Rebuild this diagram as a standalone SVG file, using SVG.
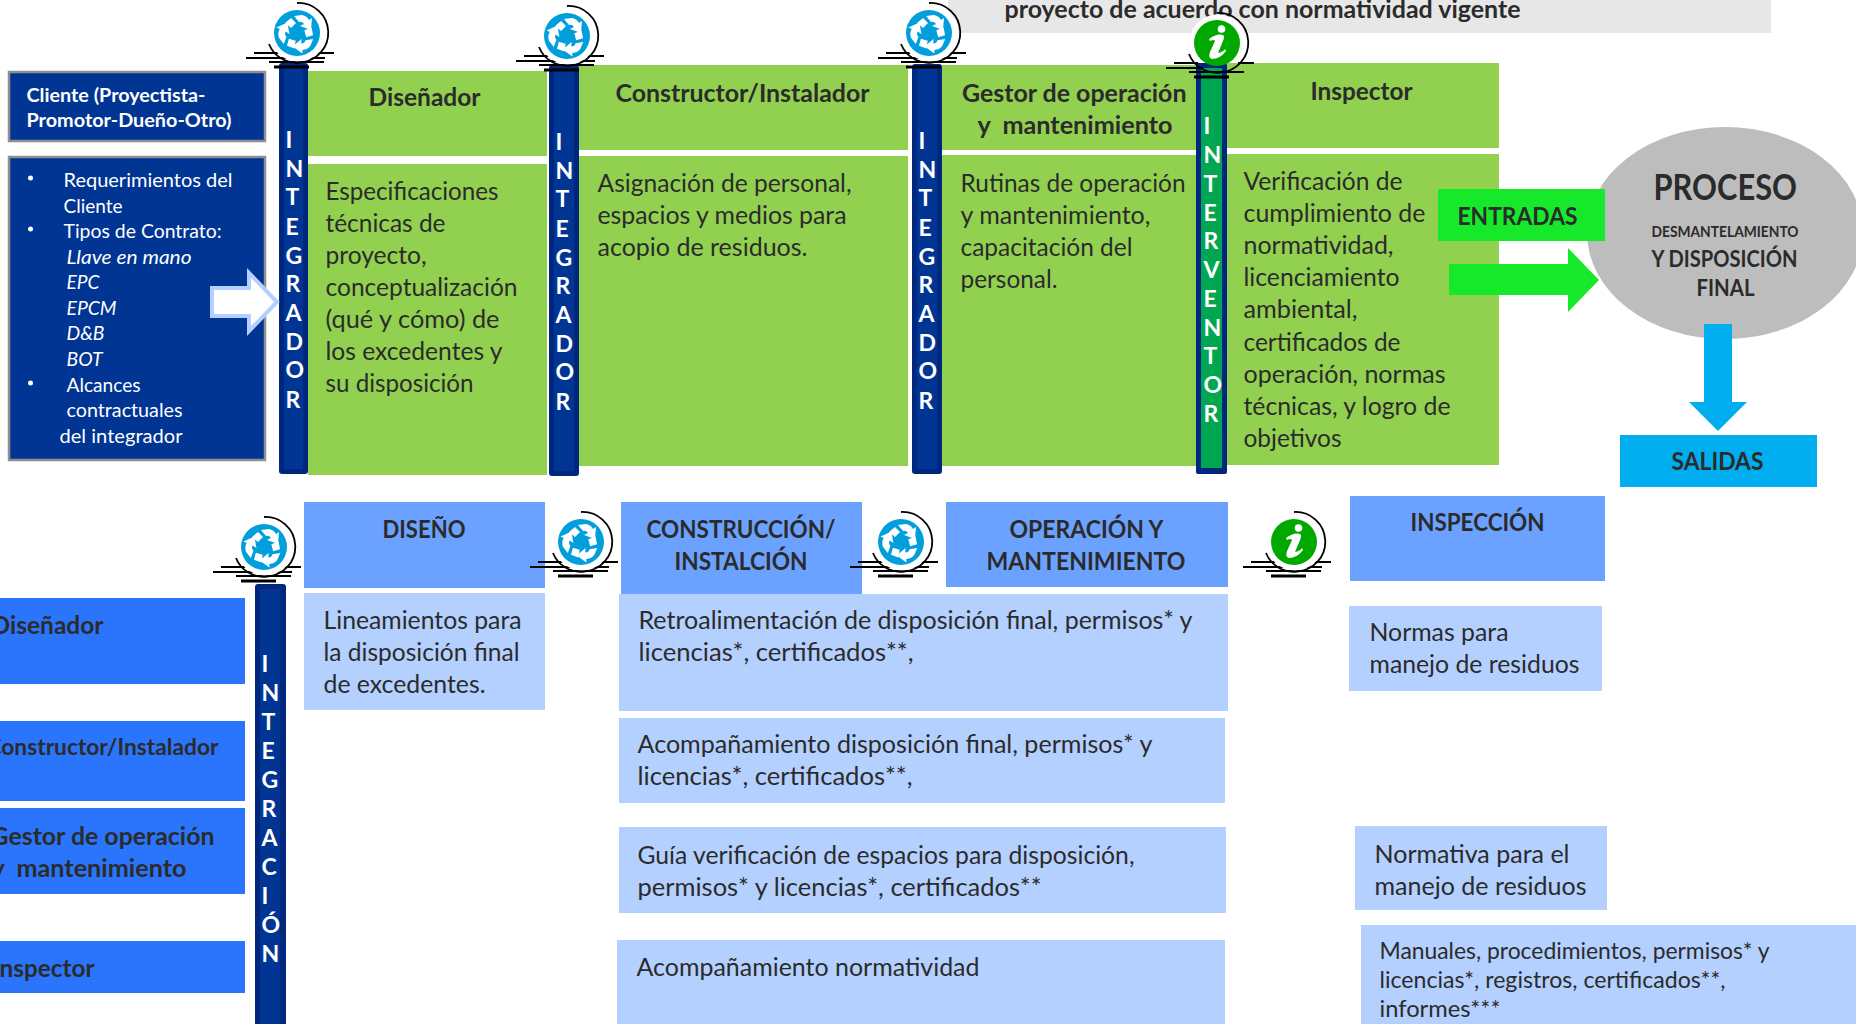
<svg xmlns="http://www.w3.org/2000/svg" width="1856" height="1024" viewBox="0 0 1856 1024">
<style>
text{font-family:Lato,"Open Sans","Liberation Sans",sans-serif;fill:#2b2b2b;transform:translate(-0.5px,0.7px);}
.b{font-size:25px;}
.s{font-size:23px;}
.t{font-weight:700;font-size:25.5px;}
.w{fill:#fff;font-size:19.5px;}
.wb{fill:#fff;font-weight:700;font-size:19.5px;}
.wi{fill:#fff;font-style:italic;font-size:19.5px;}
.l{fill:#fff;font-weight:700;font-size:23px;}
.gr{fill:#92d050;}
.hd{fill:#6ca2ff;}
.lt{fill:#b4d0ff;}
.bl{fill:#2a75fb;}
.nv{fill:#003594;stroke:#8f8f8f;stroke-width:2.500;}
.barO{fill:#00277e;}
.barI{fill:#003594;}
.ln{stroke:#000;stroke-width:1.800;fill:none;}
</style>
<defs>
<g id="arc">
<path class="ln" d="M0-30A29.500 29.500 0 0 1 3 29.500A29.500 29.500 0 0 1-28 11"/>
<path d="M-23 34H12" stroke="#000" stroke-width="3"/>
</g>
<g id="halo">
<path class="ln" d="M-43 20H37M-51 25H28M-28 29H27"/>
<circle cx="1" cy="0" r="28.500" fill="#fff"/>
<use href="#arc"/>
</g>
<g id="halo-top">
<path d="M-19 20A28.500 28.500 0 1 1 21 20Z" fill="#fff"/>
<path class="ln" d="M-43 20H-19M21 20H37M-51 25H-14M-28 29H27"/>
<use href="#arc"/>
</g>
<g id="ra" fill="#fff">
<path d="M-12-10L-6-15L-1-10L-6-5Z"/>
<path d="M-3-17L5-18Q10-17 12-13L15-15L14-3L3-7L7-9Q5-12 2-11Z"/>
</g>
<g id="rec">
<use href="#halo"/>
<circle r="23" fill="#009fdc"/>
<use href="#ra"/>
<use href="#ra" transform="rotate(120)"/>
<use href="#ra" transform="rotate(240)"/>
</g>
<g id="inf">
<circle r="23" fill="#00a800"/>
<circle cx="4.500" cy="-14" r="3.800" fill="#fff"/>
<path fill="#fff" d="M-8-4Q0-10 6-8Q8-7 6-2L1 10Q6 9 8 6L9 8Q3 16-5 16Q-9 15-7 9L-2-2Q-3-4-7-2Z"/>
</g>
</defs>
<rect width="1856" height="1024" fill="#fff"/>

<g id="banner">
<rect x="948" y="0" width="823" height="33" fill="#e7e7e7"/>
<text class="t" x="1005" y="17" textLength="516" lengthAdjust="spacingAndGlyphs">proyecto de acuerdo con normatividad vigente</text>
</g>

<g id="cliente">
<rect class="nv" x="9" y="72" width="256" height="69"/>
<text class="wb" x="27" y="101" textLength="179" lengthAdjust="spacingAndGlyphs">Cliente (Proyectista-</text>
<text class="wb" x="27" y="126" textLength="205" lengthAdjust="spacingAndGlyphs">Promotor-Dueño-Otro)</text>
</g>
<g id="requerimientos">
<rect class="nv" x="9" y="157" width="256" height="303"/>
<circle cx="30.500" cy="178" r="2.500" fill="#fff"/>
<circle cx="30.500" cy="229" r="2.500" fill="#fff"/>
<circle cx="30.500" cy="383" r="2.500" fill="#fff"/>
<text class="w" x="64" y="186" textLength="169" lengthAdjust="spacingAndGlyphs">Requerimientos del</text>
<text class="w" x="64" y="212" textLength="59" lengthAdjust="spacingAndGlyphs">Cliente</text>
<text class="w" x="64" y="237" textLength="158" lengthAdjust="spacingAndGlyphs">Tipos de Contrato:</text>
<text class="wi" x="67" y="263" textLength="125" lengthAdjust="spacingAndGlyphs">Llave en mano</text>
<text class="wi" x="67" y="288" textLength="33" lengthAdjust="spacingAndGlyphs">EPC</text>
<text class="wi" x="67" y="314" textLength="50" lengthAdjust="spacingAndGlyphs">EPCM</text>
<text class="wi" x="67" y="339" textLength="38" lengthAdjust="spacingAndGlyphs">D&amp;B</text>
<text class="wi" x="67" y="365" textLength="36" lengthAdjust="spacingAndGlyphs">BOT</text>
<text class="w" x="67" y="391" textLength="74" lengthAdjust="spacingAndGlyphs">Alcances</text>
<text class="w" x="67" y="416" textLength="116" lengthAdjust="spacingAndGlyphs">contractuales</text>
<text class="w" x="60" y="442" textLength="123" lengthAdjust="spacingAndGlyphs">del integrador</text>
</g>

<g id="disenador">
<rect class="gr" x="308" y="71" width="239" height="85"/>
<rect class="gr" x="308" y="164" width="239" height="311"/>
<text class="t" x="369" y="105" textLength="112" lengthAdjust="spacingAndGlyphs">Diseñador</text>
<text class="b" x="326" y="199" textLength="173" lengthAdjust="spacingAndGlyphs">Especificaciones</text>
<text class="b" x="326" y="231" textLength="120" lengthAdjust="spacingAndGlyphs">técnicas de</text>
<text class="b" x="326" y="263" textLength="101" lengthAdjust="spacingAndGlyphs">proyecto,</text>
<text class="b" x="326" y="295" textLength="192" lengthAdjust="spacingAndGlyphs">conceptualización</text>
<text class="b" x="326" y="327" textLength="174" lengthAdjust="spacingAndGlyphs">(qué y cómo) de</text>
<text class="b" x="326" y="359" textLength="177" lengthAdjust="spacingAndGlyphs">los excedentes y</text>
<text class="b" x="326" y="391" textLength="148" lengthAdjust="spacingAndGlyphs">su disposición</text>
</g>
<g id="constructor">
<rect class="gr" x="579" y="65" width="329" height="85"/>
<rect class="gr" x="579" y="156" width="329" height="310"/>
<text class="t" x="616" y="101" textLength="254" lengthAdjust="spacingAndGlyphs">Constructor/Instalador</text>
<text class="b" x="598" y="191" textLength="254" lengthAdjust="spacingAndGlyphs">Asignación de personal,</text>
<text class="b" x="598" y="223" textLength="249" lengthAdjust="spacingAndGlyphs">espacios y medios para</text>
<text class="b" x="598" y="255" textLength="210" lengthAdjust="spacingAndGlyphs">acopio de residuos.</text>
</g>
<g id="gestor">
<rect class="gr" x="942" y="65" width="254" height="85"/>
<rect class="gr" x="942" y="155" width="254" height="311"/>
<text class="t" x="962.500" y="101" textLength="224.500" lengthAdjust="spacingAndGlyphs">Gestor de operación</text>
<text class="t" x="978" y="133" textLength="195" lengthAdjust="spacingAndGlyphs" xml:space="preserve">y  mantenimiento</text>
<text class="b" x="961" y="191" textLength="225" lengthAdjust="spacingAndGlyphs">Rutinas de operación</text>
<text class="b" x="961" y="223" textLength="190" lengthAdjust="spacingAndGlyphs">y mantenimiento,</text>
<text class="b" x="961" y="255" textLength="172" lengthAdjust="spacingAndGlyphs">capacitación del</text>
<text class="b" x="961" y="287" textLength="97" lengthAdjust="spacingAndGlyphs">personal.</text>
</g>
<g id="inspector">
<rect class="gr" x="1227" y="63" width="272" height="85"/>
<rect class="gr" x="1227" y="154" width="272" height="311"/>
<text class="t" x="1311" y="99" textLength="102" lengthAdjust="spacingAndGlyphs">Inspector</text>
<text class="b" x="1244" y="189" textLength="159" lengthAdjust="spacingAndGlyphs">Verificación de</text>
<text class="b" x="1244" y="221" textLength="182" lengthAdjust="spacingAndGlyphs">cumplimiento de</text>
<text class="b" x="1244" y="253" textLength="150" lengthAdjust="spacingAndGlyphs">normatividad,</text>
<text class="b" x="1244" y="285" textLength="156" lengthAdjust="spacingAndGlyphs">licenciamiento</text>
<text class="b" x="1244" y="317" textLength="114" lengthAdjust="spacingAndGlyphs">ambiental,</text>
<text class="b" x="1244" y="350" textLength="157" lengthAdjust="spacingAndGlyphs">certificados de</text>
<text class="b" x="1244" y="382" textLength="202" lengthAdjust="spacingAndGlyphs">operación, normas</text>
<text class="b" x="1244" y="414" textLength="207" lengthAdjust="spacingAndGlyphs">técnicas, y logro de</text>
<text class="b" x="1244" y="446" textLength="98" lengthAdjust="spacingAndGlyphs">objetivos</text>
</g>

<g id="bar-integrador-1">
<rect class="barO" x="279" y="63" width="29" height="411" rx="3"/><rect class="barI" x="284" y="68" width="19" height="401"/>
<text class="l" x="286" y="147">I</text><text class="l" x="286" y="176">N</text><text class="l" x="286" y="204">T</text><text class="l" x="286" y="234">E</text><text class="l" x="286" y="263">G</text><text class="l" x="286" y="291">R</text><text class="l" x="286" y="320">A</text><text class="l" x="286" y="349">D</text><text class="l" x="286" y="377">O</text><text class="l" x="286" y="407">R</text>
</g>
<g id="bar-integrador-2">
<rect class="barO" x="549" y="65" width="30" height="411" rx="3"/><rect class="barI" x="554" y="70" width="20" height="401"/>
<text class="l" x="556" y="149">I</text><text class="l" x="556" y="178">N</text><text class="l" x="556" y="206">T</text><text class="l" x="556" y="236">E</text><text class="l" x="556" y="265">G</text><text class="l" x="556" y="293">R</text><text class="l" x="556" y="322">A</text><text class="l" x="556" y="351">D</text><text class="l" x="556" y="379">O</text><text class="l" x="556" y="409">R</text>
</g>
<g id="bar-integrador-3">
<rect class="barO" x="912" y="64" width="30" height="410" rx="3"/><rect class="barI" x="917" y="69" width="20" height="400"/>
<text class="l" x="919" y="148">I</text><text class="l" x="919" y="177">N</text><text class="l" x="919" y="205">T</text><text class="l" x="919" y="235">E</text><text class="l" x="919" y="264">G</text><text class="l" x="919" y="292">R</text><text class="l" x="919" y="321">A</text><text class="l" x="919" y="350">D</text><text class="l" x="919" y="378">O</text><text class="l" x="919" y="408">R</text>
</g>
<g id="bar-interventor">
<rect class="barO" x="1196" y="63" width="31" height="411" rx="2"/><rect x="1201" y="68" width="21" height="400" fill="#00a651"/>
<text class="l" x="1204" y="133">I</text><text class="l" x="1204" y="162">N</text><text class="l" x="1204" y="191">T</text><text class="l" x="1204" y="220">E</text><text class="l" x="1204" y="248">R</text><text class="l" x="1204" y="277">V</text><text class="l" x="1204" y="306">E</text><text class="l" x="1204" y="335">N</text><text class="l" x="1204" y="363">T</text><text class="l" x="1204" y="392">O</text><text class="l" x="1204" y="421">R</text>
</g>
<g id="bar-integracion">
<rect class="barO" x="255" y="584" width="31" height="450" rx="3"/><rect class="barI" x="260" y="589" width="20" height="440"/>
<text class="l" x="262" y="671">I</text><text class="l" x="262" y="700">N</text><text class="l" x="262" y="729">T</text><text class="l" x="262" y="758">E</text><text class="l" x="262" y="787">G</text><text class="l" x="262" y="816">R</text><text class="l" x="262" y="845">A</text><text class="l" x="262" y="874">C</text><text class="l" x="262" y="903">I</text><text class="l" x="262" y="932">Ó</text><text class="l" x="262" y="961">N</text>
</g>

<g id="connectors">
<path d="M212 288H249V273L277 302L249 331V316H212Z" fill="#fff" stroke="#b4d0ff" stroke-width="4"/>
<path d="M1449 264H1568V248L1599 280L1568 312V295H1449Z" fill="#16e92a"/>
</g>

<g id="proceso">
<ellipse cx="1725" cy="233" rx="138" ry="106" fill="#bdbdbd"/>
<text x="1654" y="199" font-size="37" font-weight="700" textLength="143.500" lengthAdjust="spacingAndGlyphs">PROCESO</text>
<text x="1652" y="236" font-size="15" font-weight="700" textLength="147" lengthAdjust="spacingAndGlyphs">DESMANTELAMIENTO</text>
<text x="1652" y="266" font-size="22" font-weight="700" textLength="146" lengthAdjust="spacingAndGlyphs">Y DISPOSICIÓN</text>
<text x="1697" y="295" font-size="22" font-weight="700" textLength="58" lengthAdjust="spacingAndGlyphs">FINAL</text>
</g>
<g id="entradas">
<rect x="1438" y="189" width="167" height="52" fill="#16e92a"/>
<text class="t" x="1458" y="224" textLength="120" lengthAdjust="spacingAndGlyphs">ENTRADAS</text>
</g>
<g id="connector-salida">
<path d="M1704 324H1732V402H1747L1718 431L1689 402H1704Z" fill="#00aeef"/>
</g>
<g id="salidas">
<rect x="1620" y="435" width="197" height="52" fill="#00aeef"/>
<text class="t" x="1672" y="469" textLength="92" lengthAdjust="spacingAndGlyphs">SALIDAS</text>
</g>

<g id="left-disenador"><rect class="bl" x="0" y="598" width="245" height="86"/><text class="t" x="-8" y="633" textLength="112" lengthAdjust="spacingAndGlyphs">Diseñador</text></g>
<g id="left-constructor"><rect class="bl" x="0" y="721" width="245" height="80"/><text class="t" x="-13" y="754" textLength="232" lengthAdjust="spacingAndGlyphs" style="font-size:23px">Constructor/Instalador</text></g>
<g id="left-gestor"><rect class="bl" x="0" y="808" width="245" height="86"/><text class="t" x="-9" y="844" textLength="224" lengthAdjust="spacingAndGlyphs">Gestor de operación</text><text class="t" x="-8" y="876" textLength="195" lengthAdjust="spacingAndGlyphs" xml:space="preserve">y  mantenimiento</text></g>
<g id="left-inspector"><rect class="bl" x="0" y="941" width="245" height="52"/><text class="t" x="-7" y="976" textLength="102" lengthAdjust="spacingAndGlyphs">Inspector</text></g>

<g id="diseno">
<rect class="hd" x="304" y="502" width="241" height="86"/>
<text class="t" x="383" y="537" textLength="83" lengthAdjust="spacingAndGlyphs">DISEÑO</text>
<rect class="lt" x="304" y="593" width="241" height="117"/>
<text class="b" x="324" y="628" textLength="198" lengthAdjust="spacingAndGlyphs">Lineamientos para</text>
<text class="b" x="324" y="660" textLength="196" lengthAdjust="spacingAndGlyphs">la disposición final</text>
<text class="b" x="324" y="692" textLength="162" lengthAdjust="spacingAndGlyphs">de excedentes.</text>
</g>
<g id="construccion">
<rect class="hd" x="621" y="502" width="241" height="92"/>
<text class="t" x="647" y="537" textLength="189" lengthAdjust="spacingAndGlyphs">CONSTRUCCIÓN/</text>
<text class="t" x="675" y="569" textLength="133" lengthAdjust="spacingAndGlyphs">INSTALCIÓN</text>
</g>
<g id="operacion">
<rect class="hd" x="946" y="502" width="282" height="85"/>
<text class="t" x="1010" y="537" textLength="154" lengthAdjust="spacingAndGlyphs">OPERACIÓN Y</text>
<text class="t" x="987" y="569" textLength="199" lengthAdjust="spacingAndGlyphs">MANTENIMIENTO</text>
</g>
<g id="inspeccion">
<rect class="hd" x="1350" y="496" width="255" height="85"/>
<text class="t" x="1411" y="530" textLength="134" lengthAdjust="spacingAndGlyphs">INSPECCIÓN</text>
</g>
<g id="retro">
<rect class="lt" x="619" y="594" width="609" height="117"/>
<text class="b" x="639" y="628" textLength="554" lengthAdjust="spacingAndGlyphs">Retroalimentación de disposición final, permisos* y</text>
<text class="b" x="639" y="660" textLength="275" lengthAdjust="spacingAndGlyphs">licencias*, certificados**,</text>
</g>
<g id="acomp">
<rect class="lt" x="619" y="718" width="606" height="85"/>
<text class="b" x="638" y="752" textLength="515" lengthAdjust="spacingAndGlyphs">Acompañamiento disposición final, permisos* y</text>
<text class="b" x="638" y="784" textLength="275" lengthAdjust="spacingAndGlyphs">licencias*, certificados**,</text>
</g>
<g id="guia">
<rect class="lt" x="619" y="827" width="607" height="86"/>
<text class="b" x="638" y="863" textLength="497" lengthAdjust="spacingAndGlyphs">Guía verificación de espacios para disposición,</text>
<text class="b" x="638" y="895" textLength="404" lengthAdjust="spacingAndGlyphs">permisos* y licencias*, certificados**</text>
</g>
<g id="acomp-norm">
<rect class="lt" x="617" y="940" width="608" height="84"/>
<text class="b" x="637" y="975" textLength="343" lengthAdjust="spacingAndGlyphs">Acompañamiento normatividad</text>
</g>
<g id="normas">
<rect class="lt" x="1349" y="606" width="253" height="85"/>
<text class="b" x="1370" y="640" textLength="139" lengthAdjust="spacingAndGlyphs">Normas para</text>
<text class="b" x="1370" y="672" textLength="210" lengthAdjust="spacingAndGlyphs">manejo de residuos</text>
</g>
<g id="normativa">
<rect class="lt" x="1355" y="826" width="252" height="84"/>
<text class="b" x="1375" y="862" textLength="195" lengthAdjust="spacingAndGlyphs">Normativa para el</text>
<text class="b" x="1375" y="894" textLength="212" lengthAdjust="spacingAndGlyphs">manejo de residuos</text>
</g>
<g id="manuales">
<rect class="lt" x="1361" y="925" width="495" height="99"/>
<text class="s" x="1380" y="958" textLength="390" lengthAdjust="spacingAndGlyphs">Manuales, procedimientos, permisos* y</text>
<text class="s" x="1380" y="987" textLength="346" lengthAdjust="spacingAndGlyphs">licencias*, registros, certificados**,</text>
<text class="s" x="1380" y="1016" textLength="121" lengthAdjust="spacingAndGlyphs">informes***</text>
</g>

<g id="icon-recycle-1"><use href="#rec" x="297" y="33"/></g>
<g id="icon-recycle-2"><use href="#rec" x="567" y="36"/></g>
<g id="icon-recycle-3"><use href="#rec" x="929" y="33"/></g>
<g id="icon-info-1"><use href="#halo-top" x="1217" y="43"/><use href="#inf" x="1217" y="43"/></g>
<g id="icon-recycle-4"><use href="#rec" x="264" y="547"/></g>
<g id="icon-recycle-5"><use href="#rec" x="581" y="542"/></g>
<g id="icon-recycle-6"><use href="#rec" x="901" y="542"/></g>
<g id="icon-info-2"><use href="#halo" x="1294" y="542"/><use href="#inf" x="1294" y="542"/></g>
</svg>
